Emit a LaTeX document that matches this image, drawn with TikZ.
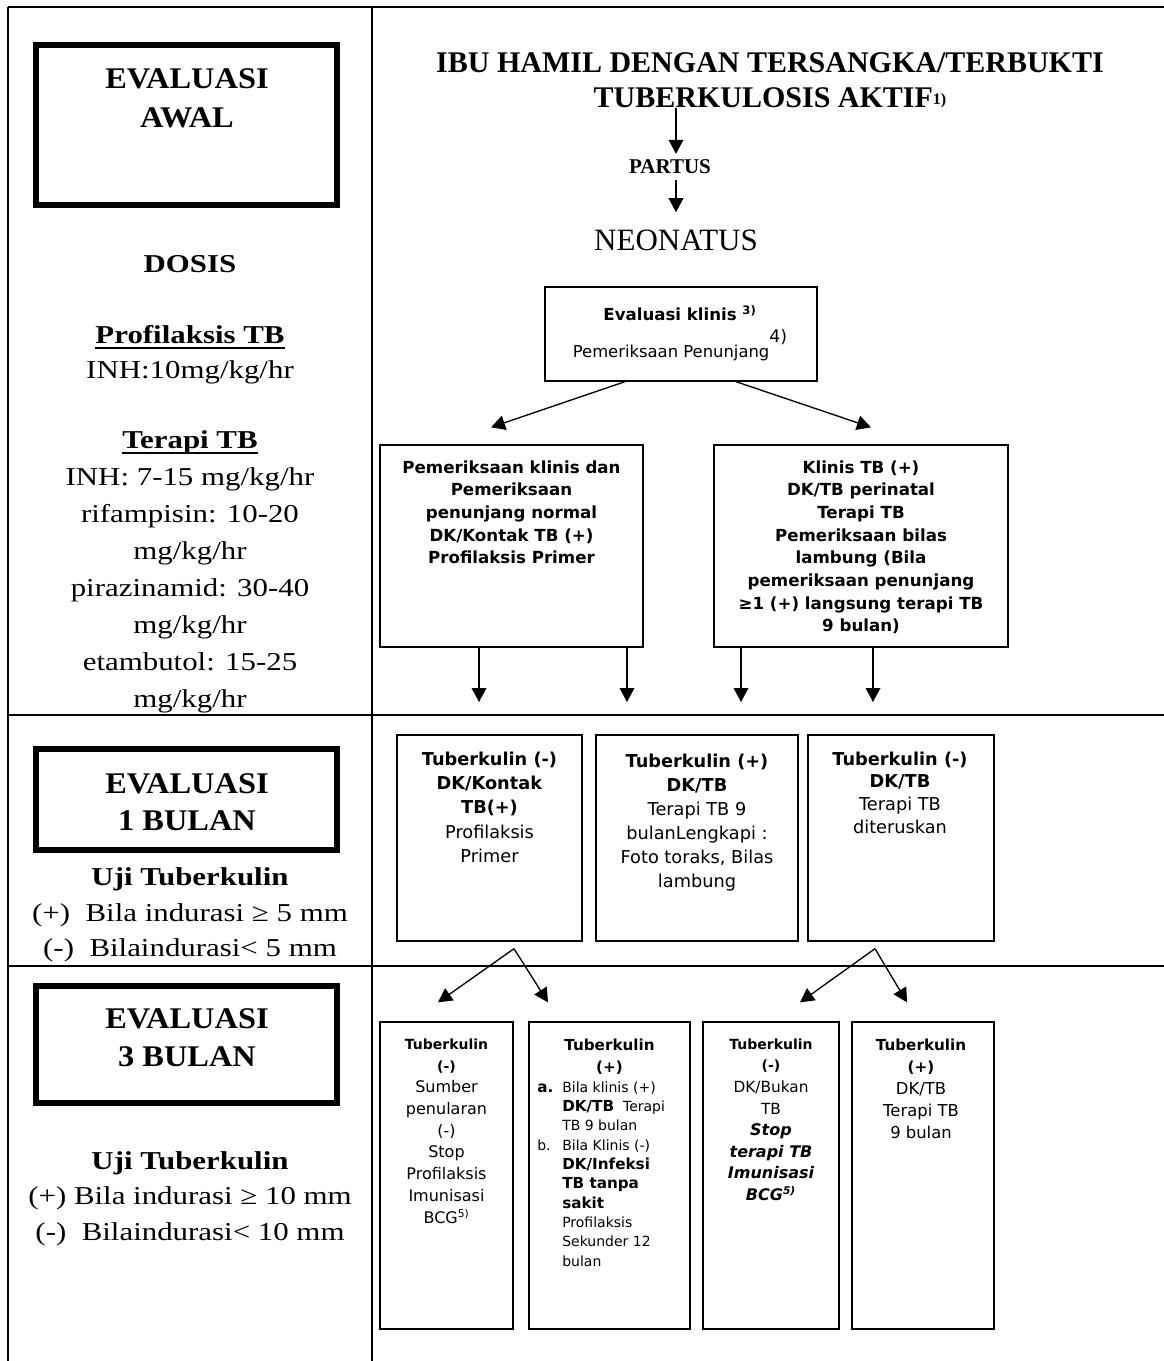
\documentclass[tikz,border=0pt]{standalone}
\usepackage{fontspec}
\setmainfont{Liberation Serif}
\newfontfamily\pal[FakeStretch=1.2]{Liberation Serif}
\newfontfamily\palh[FakeStretch=1.08]{Liberation Serif}
\newfontfamily\vsf{DejaVu Sans}[BoldFont={DejaVu Sans Bold},ItalicFont={DejaVu Sans Oblique},BoldItalicFont={DejaVu Sans Bold Oblique}]
\usetikzlibrary{arrows.meta,fit,calc}
\begin{document}
\begin{tikzpicture}[x=0.75pt,y=-0.75pt,
  tline/.style={line width=1.1pt},
  ebox/.style={draw,line width=4.5pt,inner sep=0pt},
  tbox/.style={draw,line width=1pt,inner sep=0pt},
  arr/.style={line width=1pt,-{Triangle[length=10.5pt,width=11pt]}},
  lt/.style={inner sep=0pt,anchor=base},
  bt/.style={inner sep=0pt,anchor=north,align=center},
  body/.style={font=\pal\fontsize{19.3pt}{23pt}\selectfont},
  bodyb/.style={font=\pal\bfseries\fontsize{19.3pt}{23pt}\selectfont},
  evh/.style={font=\palh\bfseries\fontsize{22.5pt}{27pt}\selectfont}
]
\useasboundingbox (0,0) rectangle (1164,1361);

% table lines
\draw[tline] (8,7) -- (1164,7);
\draw[tline] (8,7) -- (8,1361);
\draw[tline] (372,7) -- (372,1361);
\draw[tline] (8,715) -- (1164,715);
\draw[tline] (8,966) -- (1164,966);

% ---------- left column ----------
\node[ebox,fit={(36,45) (337,205)}] (awal) {};
\node[lt,evh] (ea1) at (187,88) {EVALUASI};
\node[lt,evh] (ea2) at (187,127) {AWAL};

\node[lt,bodyb] (dosis) at (190,272) {DOSIS};
\node[lt,bodyb] (prof) at (190,343) {Profilaksis TB};
\draw[line width=1pt] ($(prof.base west)+(0,5)$) -- ($(prof.base east)+(0,5)$);
\node[lt,body] (inh1) at (190,378) {INH:10mg/kg/hr};
\node[lt,bodyb] (ter) at (190,448) {Terapi TB};
\draw[line width=1pt] ($(ter.base west)+(0,5)$) -- ($(ter.base east)+(0,5)$);
\node[lt,body] (d1l) at (190,485) {INH: 7-15 mg/kg/hr};
\node[lt,body] (d2l) at (190,522) {rifampisin: 10-20};
\node[lt,body] (d3l) at (190,559) {mg/kg/hr};
\node[lt,body] (d4l) at (190,596) {pirazinamid: 30-40};
\node[lt,body] (d5l) at (190,633) {mg/kg/hr};
\node[lt,body] (d6l) at (190,670) {etambutol: 15-25};
\node[lt,body] (d7l) at (190,707) {mg/kg/hr};

\node[ebox,fit={(36,749) (337,850)}] (bln1) {};
\node[lt,evh] (eb1) at (187,793) {EVALUASI};
\node[lt,evh] (eb2) at (187,830) {1 BULAN};
\node[lt,bodyb] (uji1) at (190,885) {Uji Tuberkulin};
\node[lt,body] (uji1a) at (190,921) {(+)\hspace{0.6em}Bila indurasi ≥ 5 mm};
\node[lt,body] (uji1b) at (190,956) {(-)\hspace{0.6em}Bilaindurasi< 5 mm};

\node[ebox,fit={(36,986) (337,1103)}] (bln3) {};
\node[lt,evh] (ec1) at (187,1028) {EVALUASI};
\node[lt,evh] (ec2) at (187,1066) {3 BULAN};
\node[lt,bodyb] (uji3) at (190,1169) {Uji Tuberkulin};
\node[lt,body] (uji3a) at (190,1204) {(+) Bila indurasi ≥ 10 mm};
\node[lt,body] (uji3b) at (190,1240) {(-)\hspace{0.6em}Bilaindurasi< 10 mm};

% ---------- right column top ----------
\node[lt,font=\bfseries\fontsize{22.5pt}{27pt}\selectfont] (title1) at (770,72) {IBU HAMIL DENGAN TERSANGKA/TERBUKTI};
\node[lt,font=\bfseries\fontsize{22.5pt}{27pt}\selectfont] (title2) at (770,107) {TUBERKULOSIS AKTIF\raisebox{2pt}{\fontsize{12pt}{12pt}\selectfont 1)}};
\node[lt,font=\bfseries\fontsize{15.75pt}{18pt}\selectfont] (partus) at (670,173) {PARTUS};
\node[lt,font=\fontsize{23.25pt}{27pt}\selectfont] (neo) at (676,250) {NEONATUS};

\draw[arr,shorten >=3.75pt] (title2.south -| neo.north) -- (partus.north -| neo.north);
\draw[arr,shorten <=5pt,shorten >=12.75pt] (partus.south -| neo.north) -- (neo.north);

% evaluasi klinis box
\node[tbox,fit={(545,287) (817,381)}] (ev) {};
\node[lt,font=\vsf\bfseries\fontsize{12.45pt}{15pt}\selectfont] (evt1) at (680,320) {Evaluasi klinis \textsuperscript{3)}};
\node[lt,font=\vsf\fontsize{12.3pt}{15pt}\selectfont] (evt2) at (680,357) {Pemeriksaan Penunjang\raisebox{11pt}{\fontsize{13pt}{13pt}\selectfont 4)}};

% first row boxes
\node[tbox,fit={(380,445) (643,647)}] (lb) {};
\node[bt,font=\vsf\bfseries\fontsize{12.5pt}{17pt}\selectfont] (lbt) at (511.5,460.3)
  {Pemeriksaan klinis dan\\Pemeriksaan\\penunjang normal\\DK/Kontak TB (+)\\Profilaksis Primer};
\node[tbox,fit={(714,445) (1008,647)}] (rb) {};
\node[bt,font=\vsf\bfseries\fontsize{12.5pt}{17pt}\selectfont] (rbt) at (861,460.3)
  {Klinis TB (+)\\DK/TB perinatal\\Terapi TB\\Pemeriksaan bilas\\lambung (Bila\\pemeriksaan penunjang\\≥1 (+) langsung terapi TB\\9 bulan)};

\draw[arr] ($(ev.south)+(-56,0)$) -- ($(lb.north)+(-20.5,-17)$);
\draw[arr] ($(ev.south)+(55,0)$) -- ($(rb.north)+(10,-17)$);

\coordinate (d1) at (479,702);
\coordinate (d2) at (627,702);
\coordinate (d3) at (741,702);
\coordinate (d4) at (873,702);
\draw[arr] (lb.south -| d1) -- (d1);
\draw[arr] (lb.south -| d2) -- (d2);
\draw[arr] (rb.south -| d3) -- (d3);
\draw[arr] (rb.south -| d4) -- (d4);

% 1 bulan boxes
\node[tbox,fit={(397,735) (582,941)}] (m1) {};
\node[bt,font=\vsf\fontsize{13.3pt}{18.2pt}\selectfont] (m1t) at (489.5,751.5)
  {\textbf{Tuberkulin (-)}\\\textbf{DK/Kontak}\\\textbf{TB(+)}\\Profilaksis\\Primer};
\node[tbox,fit={(596,735) (798,941)}] (m2) {};
\node[bt,font=\vsf\fontsize{13.3pt}{18pt}\selectfont] (m2t) at (697,753.5)
  {\textbf{Tuberkulin (+)}\\\textbf{DK/TB}\\Terapi TB 9\\bulanLengkapi :\\Foto toraks, Bilas\\lambung};
\node[tbox,fit={(808,735) (994,941)}] (m3) {};
\node[bt,font=\vsf\fontsize{13.3pt}{17pt}\selectfont] (m3t) at (900,751.5)
  {\textbf{Tuberkulin (-)}\\\textbf{DK/TB}\\Terapi TB\\diteruskan};

% 3 bulan boxes
\node[tbox,fit={(380,1022) (513,1329)}] (t1) {};
\node[bt,font=\vsf\fontsize{12pt}{16.3pt}\selectfont] (t1t) at (446.5,1038.4)
  {{\fontsize{10.5pt}{16.3pt}\selectfont\bfseries Tuberkulin}\\{\fontsize{10.5pt}{16.3pt}\selectfont\bfseries (-)}\\Sumber\\penularan\\(-)\\Stop\\Profilaksis\\Imunisasi\\BCG\textsuperscript{5)}};
\node[tbox,fit={(529,1022) (690,1329)}] (t2) {};
\node[bt,font=\vsf\bfseries\fontsize{11.4pt}{16.5pt}\selectfont] (t2h) at (609.5,1038.4) {Tuberkulin\\(+)};
\node[inner sep=0pt,anchor=north west,align=left,font=\vsf\fontsize{10.5pt}{14.5pt}\selectfont] (t2l) at (537,1081.4)
  {\makebox[18.75pt][l]{\fontsize{11.4pt}{14.5pt}\selectfont\bfseries a.}Bila klinis (+)\\
   \hspace*{18.75pt}{\fontsize{11.4pt}{14.5pt}\selectfont\bfseries DK/TB}\ \ Terapi\\
   \hspace*{18.75pt}TB 9 bulan\\
   \makebox[18.75pt][l]{b.}Bila Klinis (-)\\
   \hspace*{18.75pt}{\fontsize{11.4pt}{14.5pt}\selectfont\bfseries DK/Infeksi}\\
   \hspace*{18.75pt}{\fontsize{11.4pt}{14.5pt}\selectfont\bfseries TB tanpa}\\
   \hspace*{18.75pt}{\fontsize{11.4pt}{14.5pt}\selectfont\bfseries sakit}\\
   \hspace*{18.75pt}Profilaksis\\
   \hspace*{18.75pt}Sekunder 12\\
   \hspace*{18.75pt}bulan};
\node[tbox,fit={(703,1022) (839,1329)}] (t3) {};
\node[bt,font=\vsf\fontsize{11.5pt}{16.2pt}\selectfont] (t3t) at (771,1038.4)
  {{\fontsize{10.5pt}{16.2pt}\selectfont\bfseries Tuberkulin}\\{\fontsize{10.5pt}{16.2pt}\selectfont\bfseries (-)}\\DK/Bukan\\TB\\{\fontsize{12pt}{16.2pt}\selectfont\bfseries\itshape Stop}\\{\fontsize{12pt}{16.2pt}\selectfont\bfseries\itshape terapi TB}\\{\fontsize{12pt}{16.2pt}\selectfont\bfseries\itshape Imunisasi}\\{\fontsize{12pt}{16.2pt}\selectfont\bfseries\itshape BCG\textsuperscript{5)}}};
\node[tbox,fit={(852,1022) (994,1329)}] (t4) {};
\node[bt,font=\vsf\fontsize{12.3pt}{16.5pt}\selectfont] (t4t) at (921,1038.4)
  {{\fontsize{11.4pt}{16.5pt}\selectfont\bfseries Tuberkulin}\\{\fontsize{11.4pt}{16.5pt}\selectfont\bfseries (+)}\\DK/TB\\Terapi TB\\9 bulan};

% arrows 1 bulan -> 3 bulan
\coordinate (ap1) at ($(m1.south)+(24.5,7)$);
\coordinate (ap2) at ($(m3.south)+(-26,7)$);
\draw[arr] (ap1) -- ($(t1.north)+(-8.5,-19)$);
\draw[arr] (ap1) -- ($(t2.north)+(-61.5,-19)$);
\draw[arr] (ap2) -- ($(t3.north)+(29,-19)$);
\draw[arr] (ap2) -- ($(t4.north)+(-16,-19)$);
\end{tikzpicture}
\end{document}
